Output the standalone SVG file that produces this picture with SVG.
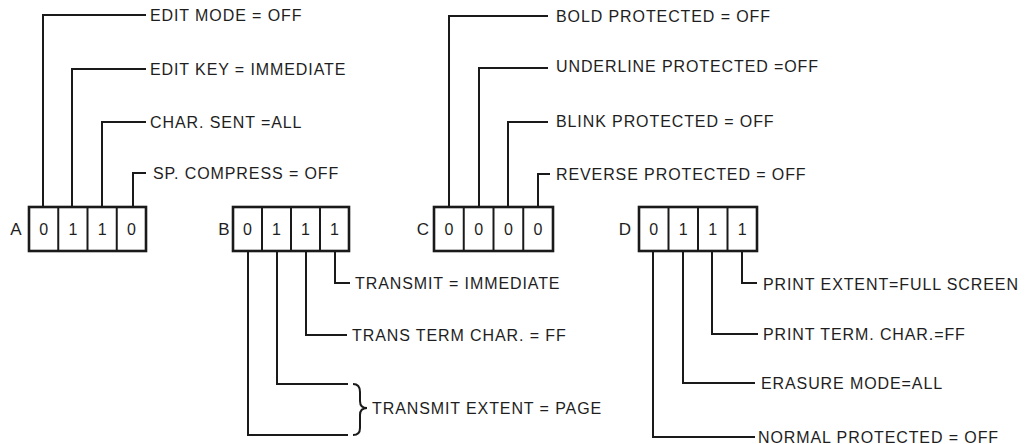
<svg xmlns="http://www.w3.org/2000/svg" width="1033" height="444" viewBox="0 0 1033 444">
<style>
.t{font-family:"Liberation Sans",Arial,sans-serif;font-size:16px;letter-spacing:0.9px;fill:#1e1e1e}
.d{font-family:"Liberation Sans",Arial,sans-serif;font-size:16px;fill:#1e1e1e;text-anchor:middle}
.lb{font-family:"Liberation Sans",Arial,sans-serif;font-size:17px;fill:#1e1e1e;text-anchor:middle}
.box{fill:none;stroke:#1a1a1a;stroke-width:2.6}
.div{stroke:#1a1a1a;stroke-width:2}
.ld{fill:none;stroke:#1a1a1a;stroke-width:2}
</style>
<rect width="1033" height="444" fill="#fff"/>
<g id="connectors">
<path class="ld" d="M43,207V15H146"/>
<path class="ld" d="M72,207V69H146"/>
<path class="ld" d="M102,207V122H146"/>
<path class="ld" d="M133,207V173H146"/>
<path class="ld" d="M335,251V283H350"/>
<path class="ld" d="M306,251V335H347"/>
<path class="ld" d="M277,251V384H348"/>
<path class="ld" d="M248,251V435H348"/>
<path class="ld" d="M353,384Q360,384 360,392V401Q360,408 367,408Q360,408 360,415V428Q360,435 353,435"/>
<path class="ld" d="M449,207V16H548"/>
<path class="ld" d="M479,207V68H548"/>
<path class="ld" d="M508,207V122H548"/>
<path class="ld" d="M538,207V174H550"/>
<path class="ld" d="M742,251V283H757"/>
<path class="ld" d="M712,251V334H758"/>
<path class="ld" d="M683,251V383H755"/>
<path class="ld" d="M653,251V437H755"/>
</g>
<g id="boxA">
<text class="lb" x="16" y="235">A</text>
<rect class="box" x="29" y="207" width="117" height="44"/>
<line class="div" x1="58.25" y1="207" x2="58.25" y2="251"/>
<line class="div" x1="87.5" y1="207" x2="87.5" y2="251"/>
<line class="div" x1="116.75" y1="207" x2="116.75" y2="251"/>
<text class="d" x="43.6" y="235">0</text>
<text class="d" x="72.9" y="235">1</text>
<text class="d" x="102.1" y="235">1</text>
<text class="d" x="131.4" y="235">0</text>
</g>
<g id="boxB">
<text class="lb" x="224" y="235">B</text>
<rect class="box" x="233" y="207" width="116" height="44"/>
<line class="div" x1="262" y1="207" x2="262" y2="251"/>
<line class="div" x1="291" y1="207" x2="291" y2="251"/>
<line class="div" x1="320" y1="207" x2="320" y2="251"/>
<text class="d" x="247.5" y="235">0</text>
<text class="d" x="276.5" y="235">1</text>
<text class="d" x="305.5" y="235">1</text>
<text class="d" x="334.5" y="235">1</text>
</g>
<g id="boxC">
<text class="lb" x="423" y="235">C</text>
<rect class="box" x="434" y="207" width="119" height="44"/>
<line class="div" x1="463.75" y1="207" x2="463.75" y2="251"/>
<line class="div" x1="493.5" y1="207" x2="493.5" y2="251"/>
<line class="div" x1="523.25" y1="207" x2="523.25" y2="251"/>
<text class="d" x="449" y="235">0</text>
<text class="d" x="478.6" y="235">0</text>
<text class="d" x="508.4" y="235">0</text>
<text class="d" x="538" y="235">0</text>
</g>
<g id="boxD">
<text class="lb" x="625" y="235">D</text>
<rect class="box" x="639" y="207" width="118" height="44"/>
<line class="div" x1="668.5" y1="207" x2="668.5" y2="251"/>
<line class="div" x1="698" y1="207" x2="698" y2="251"/>
<line class="div" x1="727.5" y1="207" x2="727.5" y2="251"/>
<text class="d" x="653.75" y="235">0</text>
<text class="d" x="683.25" y="235">1</text>
<text class="d" x="712.75" y="235">1</text>
<text class="d" x="742.25" y="235">1</text>
</g>
<g id="labelsA">
<text class="t" x="150" y="21">EDIT MODE = OFF</text>
<text class="t" x="150" y="75">EDIT KEY = IMMEDIATE</text>
<text class="t" x="150" y="128">CHAR. SENT =ALL</text>
<text class="t" x="153" y="179">SP. COMPRESS = OFF</text>
</g>
<g id="labelsB">
<text class="t" x="355" y="289">TRANSMIT = IMMEDIATE</text>
<text class="t" x="352" y="341">TRANS TERM CHAR. = FF</text>
<text class="t" x="372" y="414">TRANSMIT EXTENT = PAGE</text>
</g>
<g id="labelsC">
<text class="t" x="556" y="22">BOLD PROTECTED = OFF</text>
<text class="t" x="556" y="72">UNDERLINE PROTECTED =OFF</text>
<text class="t" x="556" y="127">BLINK PROTECTED = OFF</text>
<text class="t" x="556" y="180">REVERSE PROTECTED = OFF</text>
</g>
<g id="labelsD">
<text class="t" x="763" y="290">PRINT EXTENT=FULL SCREEN</text>
<text class="t" x="763" y="340">PRINT TERM. CHAR.=FF</text>
<text class="t" x="761" y="389">ERASURE MODE=ALL</text>
<text class="t" x="758" y="443">NORMAL PROTECTED = OFF</text>
</g>
</svg>
